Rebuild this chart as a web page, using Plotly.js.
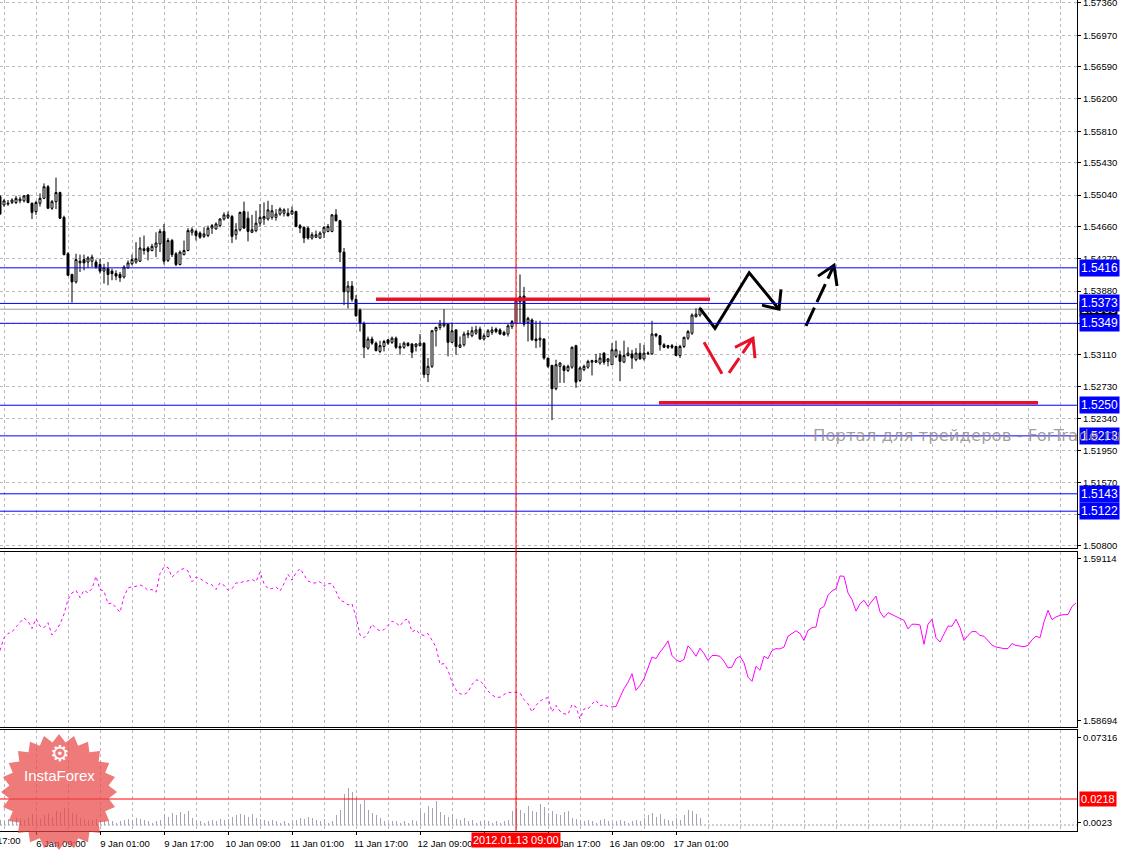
<!DOCTYPE html>
<html><head><meta charset="utf-8">
<script src="https://cdn.plot.ly/plotly-3.0.1.min.js"></script>
<style>html,body{margin:0;padding:0;background:#fff;overflow:hidden}#chart{width:1127px;height:851px}</style>
</head><body><div id="chart"></div>
<script>
// ---------- DATA (hourly bars, index 0 = first visible bar) ----------
const openP = [1.5502,1.5492,1.5493,1.5495,1.5495,1.5497,1.5497,1.5504,1.5494,1.5484,1.5494,1.5500,1.5514,1.5488,1.5496,1.5507,1.5477,1.5433,1.5408,1.5399,
1.5422,1.5426,1.5423,1.5424,1.5423,1.5420,1.5412,1.5415,1.5412,1.5409,1.5408,1.5405,1.5416,1.5421,1.5423,1.5424,1.5439,1.5440,1.5437,1.5441,
1.5445,1.5460,1.5425,1.5449,1.5433,1.5420,1.5432,1.5437,1.5459,1.5460,1.5458,1.5454,1.5455,1.5464,1.5463,1.5467,1.5475,1.5477,1.5478,1.5456,
1.5462,1.5484,1.5476,1.5459,1.5461,1.5470,1.5475,1.5475,1.5477,1.5477,1.5481,1.5482,1.5482,1.5481,1.5484,1.5467,1.5465,1.5464,1.5452,1.5453,
1.5452,1.5458,1.5460,1.5460,1.5480,1.5473,1.5435,1.5387,1.5394,1.5378,1.5365,1.5349,1.5319,1.5330,1.5325,1.5315,1.5321,1.5329,1.5326,1.5331,
1.5319,1.5320,1.5325,1.5324,1.5321,1.5322,1.5325,1.5287,1.5297,1.5340,1.5344,1.5346,1.5348,1.5326,1.5341,1.5320,1.5323,1.5335,1.5334,1.5337,
1.5342,1.5330,1.5333,1.5338,1.5342,1.5341,1.5338,1.5336,1.5345,1.5349,1.5375,1.5382,1.5350,1.5353,1.5330,1.5329,1.5330,1.5307,1.5298,1.5270,
1.5297,1.5297,1.5292,1.5296,1.5322,1.5280,1.5293,1.5296,1.5302,1.5302,1.5301,1.5313,1.5303,1.5299,1.5309,1.5311,1.5302,1.5310,1.5312,1.5305,
1.5313,1.5306,1.5312,1.5312,1.5336,1.5334,1.5323,1.5322,1.5322,1.5321,1.5310,1.5321,1.5331,1.5337,1.5357,1.5359];
const highP = [1.5504,1.5499,1.5498,1.5500,1.5503,1.5502,1.5504,1.5505,1.5495,1.5497,1.5506,1.5518,1.5516,1.5498,1.5525,1.5508,1.5479,1.5435,1.5409,1.5433,
1.5432,1.5432,1.5430,1.5432,1.5426,1.5427,1.5421,1.5423,1.5415,1.5413,1.5411,1.5419,1.5425,1.5432,1.5447,1.5453,1.5455,1.5442,1.5445,1.5459,
1.5463,1.5469,1.5452,1.5451,1.5435,1.5437,1.5449,1.5464,1.5465,1.5462,1.5460,1.5465,1.5467,1.5469,1.5471,1.5476,1.5483,1.5484,1.5480,1.5470,
1.5484,1.5496,1.5484,1.5480,1.5485,1.5493,1.5495,1.5497,1.5492,1.5487,1.5489,1.5488,1.5488,1.5490,1.5485,1.5469,1.5466,1.5466,1.5459,1.5461,
1.5460,1.5466,1.5469,1.5481,1.5487,1.5474,1.5440,1.5400,1.5400,1.5383,1.5367,1.5351,1.5333,1.5333,1.5327,1.5328,1.5329,1.5330,1.5333,1.5333,
1.5325,1.5327,1.5326,1.5325,1.5325,1.5336,1.5326,1.5307,1.5341,1.5345,1.5353,1.5366,1.5349,1.5350,1.5342,1.5333,1.5339,1.5341,1.5345,1.5346,
1.5345,1.5337,1.5342,1.5345,1.5344,1.5343,1.5340,1.5348,1.5353,1.5378,1.5408,1.5393,1.5357,1.5355,1.5352,1.5352,1.5331,1.5307,1.5299,1.5305,
1.5302,1.5299,1.5299,1.5321,1.5323,1.5297,1.5299,1.5305,1.5305,1.5312,1.5313,1.5314,1.5307,1.5325,1.5328,1.5316,1.5328,1.5320,1.5317,1.5319,
1.5325,1.5323,1.5315,1.5352,1.5337,1.5335,1.5325,1.5323,1.5324,1.5322,1.5323,1.5333,1.5341,1.5361,1.5367,1.5369];
const lowP = [1.5480,1.5490,1.5491,1.5493,1.5493,1.5494,1.5495,1.5494,1.5475,1.5480,1.5490,1.5499,1.5487,1.5486,1.5487,1.5475,1.5431,1.5406,1.5374,1.5397,
1.5411,1.5413,1.5416,1.5417,1.5415,1.5409,1.5397,1.5395,1.5401,1.5401,1.5399,1.5403,1.5415,1.5419,1.5421,1.5423,1.5432,1.5425,1.5436,1.5429,
1.5435,1.5420,1.5423,1.5429,1.5418,1.5419,1.5431,1.5436,1.5455,1.5449,1.5451,1.5452,1.5453,1.5457,1.5462,1.5465,1.5473,1.5475,1.5446,1.5450,
1.5460,1.5463,1.5448,1.5458,1.5459,1.5466,1.5468,1.5473,1.5474,1.5473,1.5479,1.5478,1.5478,1.5480,1.5465,1.5458,1.5446,1.5450,1.5450,1.5452,
1.5451,1.5452,1.5459,1.5459,1.5472,1.5423,1.5371,1.5367,1.5375,1.5357,1.5339,1.5307,1.5317,1.5323,1.5315,1.5313,1.5315,1.5323,1.5324,1.5318,
1.5311,1.5318,1.5321,1.5307,1.5315,1.5321,1.5283,1.5278,1.5295,1.5321,1.5341,1.5344,1.5309,1.5325,1.5311,1.5319,1.5321,1.5331,1.5332,1.5335,
1.5329,1.5328,1.5332,1.5335,1.5337,1.5335,1.5334,1.5333,1.5342,1.5348,1.5349,1.5345,1.5327,1.5328,1.5319,1.5320,1.5305,1.5295,1.5232,1.5268,
1.5277,1.5277,1.5290,1.5294,1.5271,1.5278,1.5291,1.5294,1.5286,1.5301,1.5299,1.5299,1.5297,1.5299,1.5307,1.5279,1.5301,1.5309,1.5294,1.5303,
1.5305,1.5304,1.5311,1.5311,1.5332,1.5316,1.5319,1.5318,1.5318,1.5310,1.5307,1.5319,1.5329,1.5335,1.5356,1.5357];
const closeP = [1.5481,1.5497,1.5494,1.5498,1.5500,1.5499,1.5503,1.5495,1.5483,1.5495,1.5500,1.5514,1.5488,1.5496,1.5507,1.5476,1.5432,1.5407,1.5399,1.5426,
1.5424,1.5422,1.5428,1.5429,1.5417,1.5412,1.5416,1.5408,1.5409,1.5406,1.5404,1.5417,1.5422,1.5426,1.5427,1.5440,1.5437,1.5436,1.5442,1.5446,
1.5460,1.5424,1.5449,1.5432,1.5420,1.5435,1.5437,1.5461,1.5462,1.5455,1.5453,1.5457,1.5464,1.5467,1.5469,1.5475,1.5480,1.5480,1.5454,1.5462,
1.5483,1.5464,1.5460,1.5462,1.5470,1.5477,1.5478,1.5486,1.5485,1.5481,1.5487,1.5486,1.5479,1.5485,1.5466,1.5464,1.5452,1.5452,1.5456,1.5456,
1.5458,1.5465,1.5466,1.5480,1.5473,1.5435,1.5387,1.5394,1.5378,1.5358,1.5349,1.5320,1.5330,1.5325,1.5316,1.5322,1.5327,1.5325,1.5331,1.5320,
1.5321,1.5325,1.5322,1.5314,1.5324,1.5325,1.5287,1.5297,1.5340,1.5344,1.5348,1.5349,1.5326,1.5340,1.5321,1.5323,1.5336,1.5337,1.5340,1.5341,
1.5330,1.5334,1.5340,1.5341,1.5339,1.5336,1.5335,1.5346,1.5351,1.5376,1.5381,1.5348,1.5355,1.5329,1.5328,1.5331,1.5307,1.5297,1.5270,1.5299,
1.5301,1.5292,1.5297,1.5320,1.5278,1.5295,1.5297,1.5303,1.5304,1.5304,1.5307,1.5302,1.5306,1.5317,1.5317,1.5303,1.5310,1.5313,1.5307,1.5313,
1.5306,1.5313,1.5313,1.5336,1.5334,1.5323,1.5320,1.5320,1.5320,1.5310,1.5321,1.5332,1.5339,1.5359,1.5360,1.5367];
const volumeVals = [0.004,0.003,0.005,0.004,0.006,0.005,0.004,0.007,0.009,0.006,0.005,0.008,0.010,0.007,0.012,0.011,
0.014,0.012,0.010,0.009,0.006,0.005,0.004,0.004,0.005,0.003,0.004,0.003,
0.003,0.002,0.003,0.004,0.005,0.004,0.006,0.005,0.004,0.003,0.002,0.003,0.004,
0.009,0.007,0.010,0.008,0.011,0.009,0.012,0.006,0.004,0.003,
0.002,0.003,0.004,0.003,0.005,0.004,
0.005,0.007,0.008,0.009,0.008,0.007,0.009,0.006,0.005,0.004,
0.003,0.004,0.003,0.002,0.003,0.002,0.003,
0.004,0.006,0.005,0.007,0.006,0.004,0.003,0.005,0.002,0.003,
0.008,0.013,0.026,0.031,0.028,0.024,0.018,0.021,0.013,0.010,0.008,0.006,
0.003,0.002,0.003,0.003,0.002,0.003,0.002,0.004,0.003,
0.012,0.010,0.016,0.014,0.020,0.011,0.008,0.007,0.009,0.005,0.004,0.006,
0.003,0.004,0.002,0.003,0.004,0.003,0.002,0.003,0.002,0.003,0.004,
0.012,0.014,0.013,0.010,0.016,0.012,0.011,0.018,0.015,0.010,0.012,0.009,0.008,0.011,0.012,0.006,0.005,0.004,
0.003,0.004,0.003,0.002,0.004,0.005,0.003,0.002,0.003,0.004,0.003,0.002,0.003,0.004,0.003,
0.006,0.008,0.010,0.007,0.009,0.005,0.004,0.003,0.006,0.004,0.008,0.013,0.012,0.009,0.006];
const indicatorVals = [1.58876,1.58909,1.58920,1.58924,1.58937,1.58950,1.58960,1.58952,1.58933,1.58958,
1.58939,1.58935,1.58948,1.58916,1.58928,1.58944,1.58970,1.59008,1.59025,1.59032,
1.59013,1.59032,1.59025,1.59036,1.59068,1.59034,1.59030,1.58997,1.58999,1.58987,
1.58975,1.59015,1.59038,1.59041,1.59042,1.59046,1.59041,1.59032,1.59034,1.59027,
1.59075,1.59092,1.59091,1.59066,1.59075,1.59085,1.59088,1.59082,1.59054,1.59066,
1.59062,1.59055,1.59049,1.59046,1.59034,1.59051,1.59045,1.59032,1.59036,1.59051,
1.59051,1.59055,1.59056,1.59060,1.59054,1.59079,1.59049,1.59036,1.59036,1.59041,
1.59030,1.59049,1.59073,1.59058,1.59077,1.59088,1.59071,1.59056,1.59051,1.59051,
1.59054,1.59042,1.59049,1.59049,1.59029,1.59006,1.59002,1.58994,1.58997,1.58963,
1.58916,1.58909,1.58921,1.58944,1.58933,1.58927,1.58930,1.58941,1.58952,1.58947,
1.58939,1.58954,1.58958,1.58924,1.58930,1.58918,1.58915,1.58920,1.58902,1.58885,
1.58840,1.58842,1.58825,1.58794,1.58774,1.58764,1.58762,1.58768,1.58788,1.58800,
1.58798,1.58786,1.58771,1.58761,1.58755,1.58755,1.58762,1.58768,1.58767,1.58768,
1.58766,1.58749,1.58738,1.58717,1.58734,1.58745,1.58751,1.58754,1.58717,1.58734,
1.58719,1.58712,1.58711,1.58736,1.58730,1.58699,1.58725,1.58724,1.58738,1.58747,
1.58733,1.58736,1.58731,1.58730,1.58731,1.58755,1.58777,1.58794,1.58816,1.58773,
1.58786,1.58803,1.58829,1.58859,1.58855,1.58872,1.58885,1.58901,1.58863,1.58852,
1.58847,1.58853,1.58888,1.58876,1.58861,1.58882,1.58868,1.58850,1.58863,1.58863,
1.58861,1.58848,1.58831,1.58833,1.58855,1.58861,1.58844,1.58807,1.58796,1.58835,
1.58825,1.58861,1.58855,1.58876,1.58881,1.58880,1.58885,1.58913,1.58920,1.58927,
1.58920,1.58902,1.58928,1.58935,1.58937,1.58984,1.58990,1.59019,1.59030,1.59036,
1.59069,1.59068,1.59025,1.59008,1.58978,1.58997,1.59006,1.58990,1.59004,1.59017,
1.58976,1.58961,1.58974,1.58969,1.58965,1.58961,1.58954,1.58932,1.58944,1.58944,
1.58942,1.58892,1.58944,1.58957,1.58909,1.58898,1.58920,1.58939,1.58939,1.58957,
1.58935,1.58902,1.58915,1.58925,1.58925,1.58915,1.58913,1.58902,1.58890,1.58885,
1.58882,1.58881,1.58881,1.58894,1.58889,1.58888,1.58886,1.58889,1.58904,1.58913,
1.58909,1.58950,1.58980,1.58956,1.58963,1.58967,1.58969,1.58969,1.58990,1.58999];
const indicatorSolidFrom = 153;

const priceTicks = [1.57360,1.56970,1.56590,1.56200,1.55810,1.55430,1.55040,1.54660,1.54270,1.53880,1.53490,1.53110,1.52730,1.52340,1.51950,1.51570,1.51180,1.50800];
const indicatorTicks = [1.59114,1.58694];
const volumeTicks = [0.07316,0.0023];
const volumeTickText = ['0.07316','0.0023'];
const timeTickBars = [9,25,41,57,73,89,105,121,137,153,169];
const timeTickLabels = ['6 Jan 09:00','9 Jan 01:00','9 Jan 17:00','10 Jan 09:00','11 Jan 01:00','11 Jan 17:00','12 Jan 09:00','13 Jan 01:00','13 Jan 17:00','16 Jan 09:00','17 Jan 01:00'];
const clippedFirstLabel = '5 Jan 17:00';

const levelValues = [1.5416,1.5373,1.5349,1.5250,1.5213,1.5143,1.5122];
const levelLabels = ['1.5416','1.5373','1.5349','1.5250','1.5213','1.5143','1.5122'];
const bidPrice = 1.5366;
const cursorBar = 129;
const cursorLabel = '2012.01.13 09:00';
const volumeLevel = 0.0218;

const redLine1X = [94,177.5],     redLine1Y = [1.5378,1.5378];
const redLine2X = [164.75,259.5], redLine2Y = [1.5253,1.5253];
const blackZigX = [175,178.75,187.3,194.75], blackZigY = [1.5367,1.5343,1.5410,1.5366];
const blackWingX = [190.5,194.75,195.25],   blackWingY = [1.5371,1.5366,1.5390];
const dashArrowX = [201.5,208.5],           dashArrowY = [1.5346,1.5419];
const dashWingX = [204.5,208.5,209.25],     dashWingY = [1.5406,1.5419,1.5394];
const redSeg1X = [176,180.5],               redSeg1Y = [1.5326,1.5288];
const redArrowX = [182.25,188.25],          redArrowY = [1.5289,1.5331];
const redWingX = [183.75,188.25,188.75],    redWingY = [1.5320,1.5331,1.5307];

const watermark = 'Портал для трейдеров - ForTrade.ru';
const logoText = 'InstaForex';

// ---------- BUILD ----------
const W = 1127, H = 851, M = {l:0, r:50, t:0, b:20};
const PW = W - M.l - M.r, PH = H - M.t - M.b;
const barX = openP.map((_, i) => i);
const indX = indicatorVals.map((_, i) => i);
const volX = volumeVals.map((_, i) => i);
const FONT = 'Liberation Sans, Arial, sans-serif';
const GRID = '#bdb5c2';
const xRange = [0, PW / 4];

const traces = [
  {type:'candlestick', x:barX, open:openP, high:highP, low:lowP, close:closeP, xaxis:'x', yaxis:'y',
   increasing:{line:{color:'#000', width:1}, fillcolor:'#ffffff'},
   decreasing:{line:{color:'#000', width:1}, fillcolor:'#000000'},
   whiskerwidth:0, hoverinfo:'skip', showlegend:false},
  {type:'scatter', mode:'lines', x:redLine1X, y:redLine1Y, xaxis:'x', yaxis:'y', line:{color:'#e8102a', width:3.5}, showlegend:false, hoverinfo:'skip'},
  {type:'scatter', mode:'lines', x:redLine2X, y:redLine2Y, xaxis:'x', yaxis:'y', line:{color:'#e8102a', width:3.5}, showlegend:false, hoverinfo:'skip'},
  {type:'scatter', mode:'lines', x:blackZigX, y:blackZigY, xaxis:'x', yaxis:'y', line:{color:'#000', width:3}, showlegend:false, hoverinfo:'skip'},
  {type:'scatter', mode:'lines', x:blackWingX, y:blackWingY, xaxis:'x', yaxis:'y', line:{color:'#000', width:3}, showlegend:false, hoverinfo:'skip'},
  {type:'scatter', mode:'lines', x:dashArrowX, y:dashArrowY, xaxis:'x', yaxis:'y', line:{color:'#000', width:3, dash:'20px,6px'}, showlegend:false, hoverinfo:'skip'},
  {type:'scatter', mode:'lines', x:dashWingX, y:dashWingY, xaxis:'x', yaxis:'y', line:{color:'#000', width:3}, showlegend:false, hoverinfo:'skip'},
  {type:'scatter', mode:'lines', x:redSeg1X, y:redSeg1Y, xaxis:'x', yaxis:'y', line:{color:'#e8102a', width:3}, showlegend:false, hoverinfo:'skip'},
  {type:'scatter', mode:'lines', x:redArrowX, y:redArrowY, xaxis:'x', yaxis:'y', line:{color:'#e8102a', width:3, dash:'18px,6px'}, showlegend:false, hoverinfo:'skip'},
  {type:'scatter', mode:'lines', x:redWingX, y:redWingY, xaxis:'x', yaxis:'y', line:{color:'#e8102a', width:3}, showlegend:false, hoverinfo:'skip'},
  {type:'scatter', mode:'lines', x:indX.slice(0, indicatorSolidFrom+1), y:indicatorVals.slice(0, indicatorSolidFrom+1), xaxis:'x2', yaxis:'y2',
   line:{color:'#ff00ff', width:1, dash:'3px,3px'}, showlegend:false, hoverinfo:'skip'},
  {type:'scatter', mode:'lines', x:indX.slice(indicatorSolidFrom), y:indicatorVals.slice(indicatorSolidFrom), xaxis:'x2', yaxis:'y2',
   line:{color:'#ff00ff', width:1}, showlegend:false, hoverinfo:'skip'},
  {type:'bar', x:volX, y:volumeVals, xaxis:'x3', yaxis:'y3', width:0.25, marker:{color:'#a4a4b4', line:{width:0}}, showlegend:false, hoverinfo:'skip'}
];

function xAxis(anchor, domainMatch, showLabels) {
  const ax = {
    range: xRange, anchor: anchor, showline:true, mirror:true, linecolor:'#000', linewidth:1,
    tickmode:'array', tickvals: timeTickBars, ticktext: timeTickLabels, showticklabels: showLabels,
    ticks: showLabels ? 'outside' : '', ticklen:3, tickcolor:'#000',
    showgrid:true, gridcolor:GRID, griddash:'3px,3px', gridwidth:1, zeroline:false,
    minor:{tickmode:'linear', tick0:1, dtick:8, showgrid:true, gridcolor:GRID, griddash:'3px,3px', gridwidth:1, ticks:''},
    rangeslider:{visible:false}, fixedrange:true,
    tickfont:{family:FONT, size:9.5, color:'#000'}
  };
  if (showLabels) { ax.ticklabelshift = 25; ax.ticklabelstandoff = 1; }
  if (domainMatch) ax.matches = 'x';
  return ax;
}

const dMain = [1 - 548/PH, 1];
const dInd = [1 - 727/PH, 1 - 552/PH];
const dVol = [0, 1 - 730/PH];

const yPxPerUnit = 8277;
const mainRange = [1.57396 - 548/yPxPerUnit, 1.57396];

const shapes = [];
levelValues.forEach(v => shapes.push({type:'line', xref:'paper', x0:0, x1:1, yref:'y', y0:v, y1:v, line:{color:'#0000ff', width:1}}));
shapes.push({type:'line', xref:'paper', x0:0, x1:1, yref:'y', y0:bidPrice, y1:bidPrice, line:{color:'#9a9a9a', width:1}, layer:'below'});
shapes.push({type:'line', xref:'x', x0:cursorBar, x1:cursorBar, yref:'paper', y0:0, y1:1, line:{color:'#ff0000', width:1}});
shapes.push({type:'line', xref:'paper', x0:0, x1:1, yref:'y3', y0:volumeLevel, y1:volumeLevel, line:{color:'#ff0000', width:1}});
shapes.push({type:'line', xref:'paper', x0:0, x1:1, yref:'y3', y0:0, y1:0, line:{color:'#a0a0b0', width:1, dash:'2px,2px'}, layer:'below'});

// logo starburst (decoration)
(function(){
  const cx = 59/PW, cy = 1 - 792/PH, n = 24, ro = 58, ri = 50;
  let p = '';
  for (let i = 0; i < 2*n; i++) {
    const a = Math.PI * i / n - Math.PI/2;
    const r = (i % 2 === 0) ? ro : ri;
    const x = cx + r*Math.cos(a)/PW, y = cy - r*Math.sin(a)/PH;
    p += (i === 0 ? 'M' : 'L') + x.toFixed(5) + ',' + y.toFixed(5);
  }
  p += 'Z';
  shapes.push({type:'path', xref:'paper', yref:'paper', path:p, fillcolor:'rgba(232,70,70,0.72)', line:{width:0}, layer:'above'});
})();

const annotations = [];
annotations.push({xref:'paper', x:1, xanchor:'left', xshift:2, yref:'y', y:bidPrice, text:bidPrice.toFixed(4), showarrow:false,
  bgcolor:'#000', font:{family:FONT, size:11.5, color:'#fff'}, borderpad:1});
levelValues.forEach((v, i) => annotations.push({xref:'paper', x:1, xanchor:'left', xshift:2, yref:'y', y:v, text:levelLabels[i], showarrow:false,
  bgcolor:'#0000ff', font:{family:FONT, size:12, color:'#fff'}, borderpad:1}));
annotations.push({xref:'paper', x:1, xanchor:'left', xshift:2, yref:'y3', y:volumeLevel, text:volumeLevel.toFixed(4), showarrow:false,
  bgcolor:'#ff0000', font:{family:FONT, size:11, color:'#fff'}, borderpad:1});
annotations.push({xref:'x3', x:cursorBar, xanchor:'center', yref:'paper', y:-9/PH, yanchor:'middle', text:cursorLabel, showarrow:false,
  bgcolor:'#ff0000', font:{family:FONT, size:11, color:'#fff'}, borderpad:1});
annotations.push({xref:'paper', x:-31/PW, xanchor:'left', yref:'paper', y:-9/PH, yanchor:'middle', text:clippedFirstLabel, showarrow:false,
  font:{family:FONT, size:9.5, color:'#000'}});
annotations.push({xref:'paper', x:811/PW, xanchor:'left', yref:'y', y:levelValues[4], yanchor:'middle', text:watermark, showarrow:false,
  font:{family:'DejaVu Sans, sans-serif', size:16.5, color:'rgba(150,140,140,0.85)'}});
annotations.push({xref:'paper', x:59/PW, xanchor:'center', yref:'paper', y:1-775/PH, yanchor:'middle', text:logoText, showarrow:false,
  font:{family:FONT, size:15, color:'#fff'}});
annotations.push({xref:'paper', x:60/PW, xanchor:'center', yref:'paper', y:1-753/PH, yanchor:'middle', text:'⚙', showarrow:false,
  font:{family:'DejaVu Sans, sans-serif', size:22, color:'#fff'}});

const layout = {
  width:W, height:H, margin:M, paper_bgcolor:'#fff', plot_bgcolor:'#fff', showlegend:false,
  font:{family:FONT, size:9.5, color:'#000'}, bargap:0,
  xaxis: Object.assign(xAxis('y', false, false), {domain:[0,1]}),
  xaxis2: Object.assign(xAxis('y2', true, false), {domain:[0,1]}),
  xaxis3: Object.assign(xAxis('y3', true, true), {domain:[0,1]}),
  yaxis: {domain:dMain, anchor:'x', side:'right', range:mainRange, tickmode:'array', tickvals:priceTicks,
    ticktext:priceTicks.map(v => v.toFixed(5)), showline:true, linecolor:'#000', linewidth:1, ticks:'outside', ticklen:3, tickcolor:'#000',
    ticklabeloverflow:'allow',
    showgrid:true, gridcolor:GRID, griddash:'3px,3px', zeroline:false, fixedrange:true, tickfont:{family:FONT, size:9.5, color:'#000'}},
  yaxis2: {domain:dInd, anchor:'x2', side:'right', range:[1.58678,1.59131], tickmode:'array', tickvals:indicatorTicks,
    ticktext:indicatorTicks.map(v => v.toFixed(5)), showline:true, linecolor:'#000', linewidth:1, ticks:'outside', ticklen:3, tickcolor:'#000',
    showgrid:false, zeroline:false, fixedrange:true, tickfont:{family:FONT, size:9.5, color:'#000'}},
  yaxis3: {domain:dVol, anchor:'x3', side:'right', range:[-0.005,0.0796], tickmode:'array', tickvals:volumeTicks, ticktext:volumeTickText,
    showline:true, linecolor:'#000', linewidth:1, ticks:'outside', ticklen:3, tickcolor:'#000',
    showgrid:false, zeroline:false, fixedrange:true, tickfont:{family:FONT, size:9.5, color:'#000'}},
  shapes: shapes, annotations: annotations
};

Plotly.newPlot('chart', traces, layout, {staticPlot:true, displayModeBar:false});
</script></body></html>
